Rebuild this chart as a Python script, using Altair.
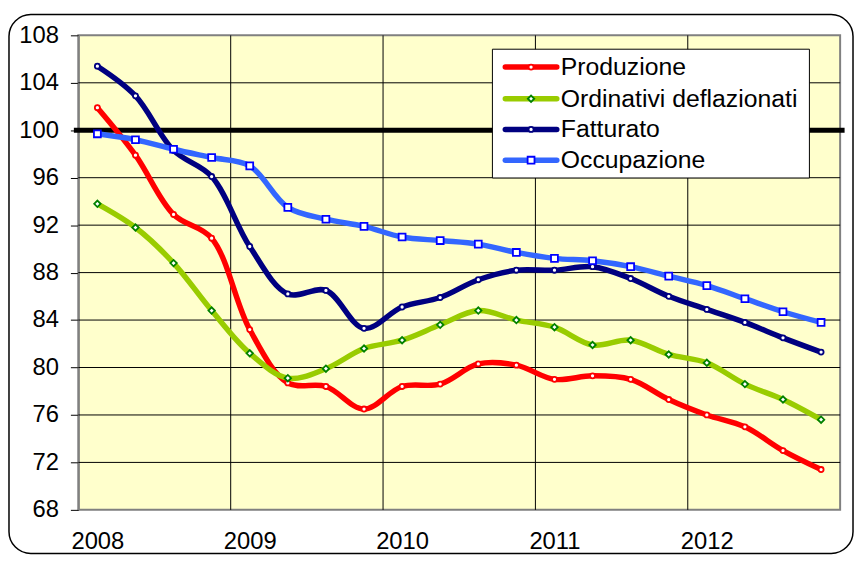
import altair as alt
import pandas as pd

# ---------------- data ----------------
years = ["2008", "2009", "2010", "2011", "2012"]
quarters = [f"{y}-T{q}" for y in years for q in range(1, 5)]
series_names = ["Produzione", "Ordinativi deflazionati", "Fatturato", "Occupazione"]

produzione = [101.9, 97.9, 92.9, 90.9, 83.2, 78.7, 78.4, 76.5, 78.4, 78.6,
              80.3, 80.2, 79.0, 79.3, 79.0, 77.3, 76.0, 75.0, 73.0, 71.4]
ordinativi = [93.8, 91.8, 88.8, 84.8, 81.2, 79.1, 79.9, 81.6, 82.3, 83.6,
              84.8, 84.0, 83.4, 81.9, 82.3, 81.1, 80.4, 78.6, 77.3, 75.6]
fatturato = [105.4, 102.9, 98.3, 96.1, 90.2, 86.2, 86.5, 83.3, 85.1, 85.9,
             87.4, 88.2, 88.2, 88.5, 87.5, 86.0, 84.9, 83.8, 82.5, 81.3]
occupazione = [99.7, 99.2, 98.4, 97.7, 97.0, 93.5, 92.5, 91.9, 91.0, 90.7,
               90.4, 89.7, 89.2, 89.0, 88.5, 87.7, 86.9, 85.8, 84.7, 83.8]

y_ticks = [68, 72, 76, 80, 84, 88, 92, 96, 100, 104, 108]
ref_level = 100

# ---------------- styles ----------------
FONT = "Liberation Sans"
AX_FS = 24
LEG_FS = 25
line_colors = ["#FF0000", "#99CC00", "#000080", "#3366FF"]
marker_strokes = ["#FF0000", "#008000", "#000080", "#0000FF"]
marker_shapes = ["circle", "diamond", "circle", "square"]
marker_sizes = [26, 42, 26, 48]

W, H = 769, 479

values_by_series = [produzione, ordinativi, fatturato, occupazione]
rows = []
for name, vals in zip(series_names, values_by_series):
    for i, (q, v) in enumerate(zip(quarters, vals)):
        rows.append({"idx": i, "quarter": q, "series": name, "value": v})
df = pd.DataFrame(rows)

year_pos = [i for i, q in enumerate(quarters) if q.endswith("T1")]
year_bounds = [p - 0.5 for p in year_pos[1:]]
label_expr = "[" + ",".join(f"'{y}'" for y in years) + "][datum.value / 4]"

x_enc = alt.X("idx:Q",
              scale=alt.Scale(domain=[-0.5, len(quarters) - 0.5], nice=False, zero=False),
              axis=alt.Axis(values=year_pos, labelExpr=label_expr, grid=False,
                            ticks=False, domain=False, labelPadding=20,
                            labelFontSize=AX_FS, labelFont=FONT, labelColor="#000",
                            title=None))
y_enc = alt.Y("value:Q",
              scale=alt.Scale(domain=[68, 108], nice=False, zero=False),
              axis=alt.Axis(values=y_ticks, grid=False, ticks=True, tickSize=8,
                            tickColor="#000", tickWidth=1, domain=True,
                            domainColor="#808080", domainWidth=2,
                            labelPadding=12, labelFontSize=AX_FS, labelFont=FONT,
                            labelColor="#000", title=None))

# grid
grid_h = alt.Chart(pd.DataFrame({"value": [v for v in y_ticks if 68 < v < 108 and v != ref_level]})).mark_rule(
    color="#000", strokeWidth=1).encode(y=y_enc)
grid_v = alt.Chart(pd.DataFrame({"idx": year_bounds})).mark_rule(
    color="#000", strokeWidth=1).encode(x=x_enc)
ref = alt.Chart(pd.DataFrame({"value": [ref_level]})).mark_rule(
    color="#000", strokeWidth=5, strokeCap="square").encode(
    y=y_enc, x=alt.value(-2), x2=alt.value(W + 2))

layers = [grid_h, grid_v, ref]
for name, lc, ms, shp, sz in zip(series_names, line_colors, marker_strokes, marker_shapes, marker_sizes):
    sub = df[df["series"] == name]
    line = alt.Chart(sub).mark_line(color=lc, strokeWidth=5.5, interpolate="catmull-rom",
                                    strokeCap="round", strokeJoin="round").encode(x=x_enc, y=y_enc)
    pts = alt.Chart(sub).mark_point(shape=shp, filled=True, fill="white", stroke=ms,
                                    strokeWidth=1.8, size=sz, opacity=1).encode(x=x_enc, y=y_enc)
    layers += [line, pts]

# legend (manual, pixel layout)
leg_x0, leg_x1, leg_y0, leg_y1 = 418, 738, 14, 144
row_y = [32, 64, 95, 126]
leg_df = pd.DataFrame({
    "series": series_names,
    "ly": row_y,
    "lx0": [431] * 4, "lx1": [483] * 4, "lxm": [457] * 4, "ltx": [487] * 4,
    "lc": line_colors, "ms": marker_strokes, "shp": marker_shapes, "sz": marker_sizes,
})
leg_box = alt.Chart(pd.DataFrame({"a": [0]})).mark_rect(
    fill="white", stroke="#000", strokeWidth=1).encode(
    x=alt.value(leg_x0), x2=alt.value(leg_x1), y=alt.value(leg_y0), y2=alt.value(leg_y1))
leg_lines = alt.Chart(leg_df).mark_rule(strokeWidth=5.5, strokeCap="round").encode(
    x=alt.X("lx0:Q", scale=None, axis=None), x2="lx1:Q",
    y=alt.Y("ly:Q", scale=None, axis=None),
    color=alt.Color("lc:N", scale=None, legend=None))
leg_pts = alt.Chart(leg_df).mark_point(filled=True, fill="white", strokeWidth=1.8, opacity=1).encode(
    x=alt.X("lxm:Q", scale=None, axis=None),
    y=alt.Y("ly:Q", scale=None, axis=None),
    stroke=alt.Stroke("ms:N", scale=None, legend=None),
    shape=alt.Shape("shp:N", scale=None, legend=None),
    size=alt.Size("sz:Q", scale=None, legend=None))
leg_txt = alt.Chart(leg_df).mark_text(align="left", baseline="middle", fontSize=LEG_FS,
                                      font=FONT, color="#000").encode(
    x=alt.X("ltx:Q", scale=None, axis=None),
    y=alt.Y("ly:Q", scale=None, axis=None),
    text="series:N")

# outer rounded frame
frame = alt.Chart(pd.DataFrame({"a": [0]})).mark_rect(
    fill=None, stroke="#000", strokeWidth=1.5, cornerRadius=22).encode(
    x=alt.value(-70), x2=alt.value(782), y=alt.value(-21), y2=alt.value(523))

layers += [leg_box, leg_lines, leg_pts, leg_txt, frame]

chart = alt.layer(*layers).properties(
    width=W, height=H,
    autosize=alt.AutoSizeParams(type="none"),
    padding={"left": 71, "top": 25, "right": 14, "bottom": 47},
    background="white",
).configure_view(fill="#FFFFCC", stroke="#808080", strokeWidth=2)

chart.save("out.html", embed_options={"renderer": "svg", "actions": False})
